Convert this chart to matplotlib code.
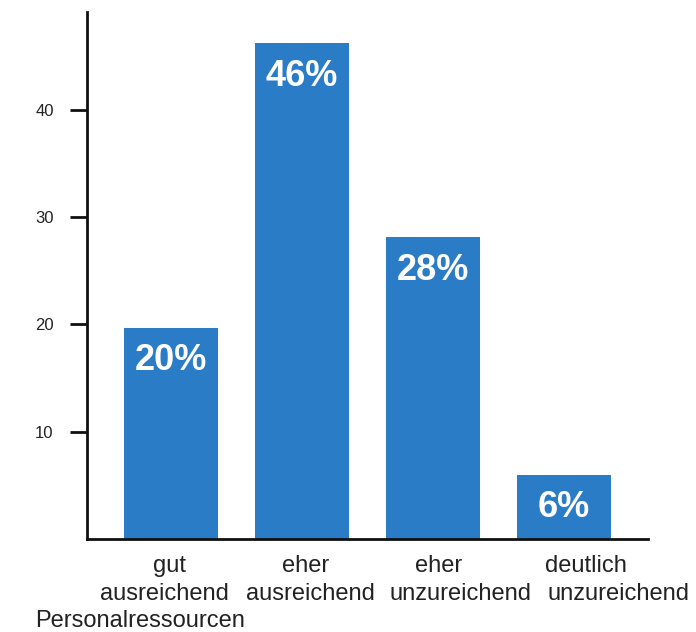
import matplotlib
matplotlib.use("Agg")
import matplotlib.pyplot as plt

categories = ["gut\nausreichend", "eher\nausreichend", "eher\nunzureichend", "deutlich\nunzureichend"]
values = [19.7, 46.2, 28.1, 6.0]
labels = ["20%", "46%", "28%", "6%"]
yticks = [10, 20, 30, 40]
xlabel = "Personalressourcen"

# horizontal pixel offsets of each label line relative to its bar centre (layout only)
line1_dx = [-1, 4, 6, 22]
line2_dx = [-6, 8, 27, 54]

plt.rcParams['font.family'] = ['Liberation Sans', 'DejaVu Sans']

fig = plt.figure(figsize=(6.96, 6.32), dpi=100)
ax = fig.add_axes([0.125, 0.147, 0.806, 0.834])

x = list(range(len(categories)))
ax.bar(x, values, width=0.72, color="#2a7cc7", zorder=2)
for xi, v, lab in zip(x, values, labels):
    ax.annotate(lab, (xi, v), xytext=(0, -33), textcoords="offset pixels",
                ha="center", va="center", color="white", fontsize=26, fontweight="bold")

ax.set_xlim(-0.64, 3.64)
ax.set_ylim(0, 49.1)
ax.set_yticks(yticks)
ax.set_yticklabels([str(t) for t in yticks], fontsize=12, color="#222222")
ax.set_xticks(x)
ax.set_xticklabels([])
ax.tick_params(axis="x", length=0)
ax.tick_params(axis="y", length=12, width=2, direction="out", pad=12, color="#111111")

for xi, cat, d1, d2 in zip(x, categories, line1_dx, line2_dx):
    l1, l2 = cat.split("\n")
    ax.annotate(l1, (xi, 0), xytext=(d1, -33), textcoords="offset pixels",
                ha="center", va="baseline", fontsize=17, color="#222222", annotation_clip=False)
    ax.annotate(l2, (xi, 0), xytext=(d2, -61), textcoords="offset pixels",
                ha="center", va="baseline", fontsize=17, color="#222222", annotation_clip=False)

for s in ["top", "right"]:
    ax.spines[s].set_visible(False)
for s in ["left", "bottom"]:
    ax.spines[s].set_linewidth(2)
    ax.spines[s].set_color("#111111")

fig.text(35 / 696, 1 - 627 / 632, xlabel, fontsize=17, color="#222222", ha="left", va="baseline")

fig.savefig("out.png", dpi=100, facecolor="white")
